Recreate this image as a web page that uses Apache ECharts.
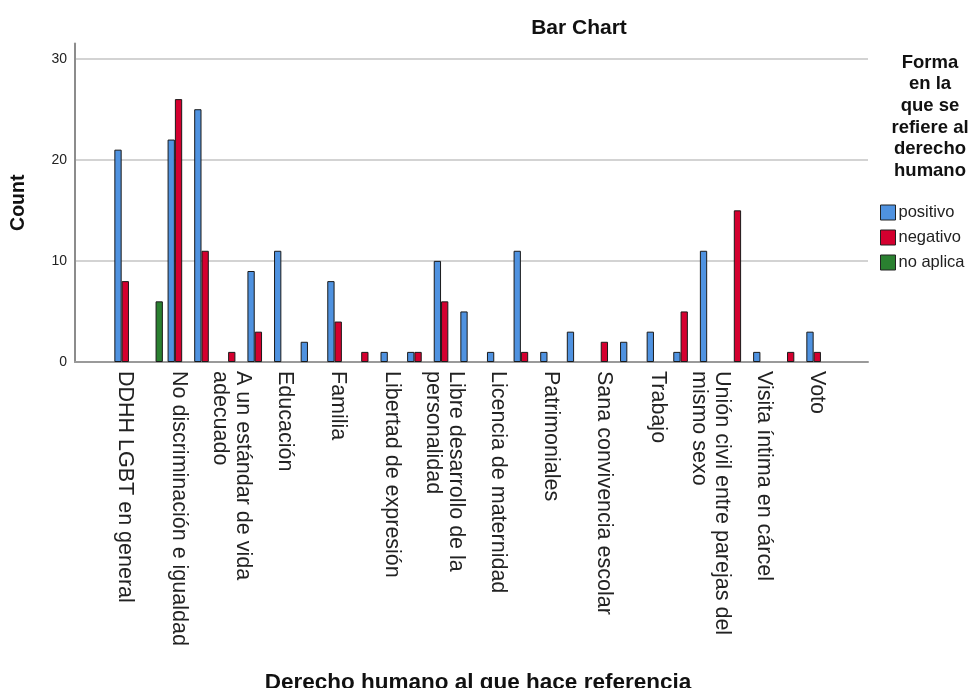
<!DOCTYPE html>
<html>
<head>
<meta charset="utf-8">
<script src="https://cdn.jsdelivr.net/npm/echarts@6/dist/echarts.min.js"></script>
<style>
html,body{margin:0;padding:0;background:#fff;}
#chart{width:971px;height:688px;}
</style>
</head>
<body>
<div id="chart"></div>
<script>
// Categories (odd positions carry no visible label in the reference)
const categories = [
  'DDHH LGBT en general', 'Categoría sin rótulo 1',
  'No discriminación e igualdad', 'Categoría sin rótulo 2',
  'A un estándar de vida\nadecuado', 'Categoría sin rótulo 3',
  'Educación', 'Categoría sin rótulo 4',
  'Familia', 'Categoría sin rótulo 5',
  'Libertad de expresión', 'Categoría sin rótulo 6',
  'Libre desarrollo de la\npersonalidad', 'Categoría sin rótulo 7',
  'Licencia de maternidad', 'Categoría sin rótulo 8',
  'Patrimoniales', 'Categoría sin rótulo 9',
  'Sana convivencia escolar', 'Categoría sin rótulo 10',
  'Trabajo', 'Categoría sin rótulo 11',
  'Unión civil entre parejas del\nmismo sexo', 'Categoría sin rótulo 12',
  'Visita íntima en cárcel', 'Categoría sin rótulo 13',
  'Voto'
];
const seriesNames = ['positivo', 'negativo', 'no aplica'];
const positivo = [21, 0, 22, 25, 0, 9, 11, 2, 8, 0, 1, 1, 10, 5, 1, 11, 1, 3, 0, 2, 3, 1, 11, 0, 1, 0, 3];
const negativo = [8, 0, 26, 11, 1, 3, 0, 0, 4, 1, 0, 1, 6, 0, 0, 1, 0, 0, 2, 0, 0, 5, 0, 15, 0, 1, 1];
const noAplica = [0, 6, 0, 0, 0, 0, 0, 0, 0, 0, 0, 0, 0, 0, 0, 0, 0, 0, 0, 0, 0, 0, 0, 0, 0, 0, 0];
const yTicks = [0, 10, 20, 30];

const colors = ['#4f92e0', '#d4002f', '#2a8030'];
const FONT = '"Liberation Sans", Arial, sans-serif';
const chart = echarts.init(document.getElementById('chart'), null, {renderer: 'canvas'});

const hideZero = arr => arr.map(v => v === 0 ? '-' : v);
const valueSets = [positivo, negativo, noAplica];

const plotTop = 43.5, plotBottom = 362;
const yMax = 31.5;

const option = {
  backgroundColor: '#ffffff',
  animation: false,
  color: colors,
  title: [
    {text: 'Bar Chart', left: 574, top: 13, textAlign: 'center',
     textStyle: {fontFamily: FONT, fontSize: 21, fontWeight: 'bold', color: '#111'}},
    {text: 'Forma\nen la\nque se\nrefiere al\nderecho\nhumano', left: 925, top: 47, textAlign: 'center',
     textStyle: {fontFamily: FONT, fontSize: 18.5, fontWeight: 'bold', color: '#111', lineHeight: 21.6}},
    {text: 'Derecho humano al que hace referencia', left: 473, top: 666, textAlign: 'center',
     textStyle: {fontFamily: FONT, fontSize: 22.5, fontWeight: 'bold', color: '#111'}}
  ],
  legend: {
    orient: 'vertical', left: 875, top: 199, itemWidth: 15, itemHeight: 15, itemGap: 8,
    icon: 'rect', data: seriesNames,
    textStyle: {fontFamily: FONT, fontSize: 16.5, color: '#222', padding: [0, 0, 0, -2]},
    itemStyle: {borderColor: '#222', borderWidth: 1}
  },
  grid: [
    {left: 75, top: plotTop, width: 793, height: plotBottom - plotTop, containLabel: false},
    {left: 112, top: plotTop, width: 718.6, height: plotBottom - plotTop, containLabel: false}
  ],
  xAxis: [
    {type: 'category', gridIndex: 0, data: [''], axisTick: {show: false}, axisLabel: {show: false},
     axisLine: {show: true, lineStyle: {color: '#9a9a9a', width: 2}}, splitLine: {show: false}},
    {type: 'category', gridIndex: 1, data: categories,
     axisTick: {show: false}, axisLine: {show: false}, splitLine: {show: false},
     axisLabel: {interval: 1, rotate: -90, margin: 9, fontFamily: FONT, fontSize: 21.5,
                 lineHeight: 23, color: '#222', padding: [8, 0, 0, 0]}}
  ],
  yAxis: [
    {type: 'value', gridIndex: 0, min: 0, max: yMax, interval: 10,
     name: 'Count', nameLocation: 'middle', nameGap: 46, nameRotate: 90,
     nameTextStyle: {fontFamily: FONT, fontSize: 19.5, fontWeight: 'bold', color: '#111'},
     axisLine: {show: true, lineStyle: {color: '#8c8c8c', width: 2}},
     axisTick: {show: false},
     axisLabel: {fontFamily: FONT, fontSize: 14, color: '#222', margin: 8, showMaxLabel: false,
                 formatter: v => yTicks.includes(v) ? String(v) : ''},
     splitLine: {show: true, showMaxLine: false, showMinLine: false, lineStyle: {color: '#c4c4c4', width: 1.5}}},
    {type: 'value', gridIndex: 1, min: 0, max: yMax, interval: 10, show: false,
     splitLine: {show: false}}
  ],
  series: seriesNames.map((name, i) => ({
    name: name, type: 'bar', xAxisIndex: 1, yAxisIndex: 1,
    barWidth: 7.3, barGap: '0%',
    data: hideZero(valueSets[i]),
    itemStyle: {color: colors[i], borderColor: '#1a1a1a', borderWidth: 1}
  }))
};
chart.setOption(option);
</script>
</body>
</html>
